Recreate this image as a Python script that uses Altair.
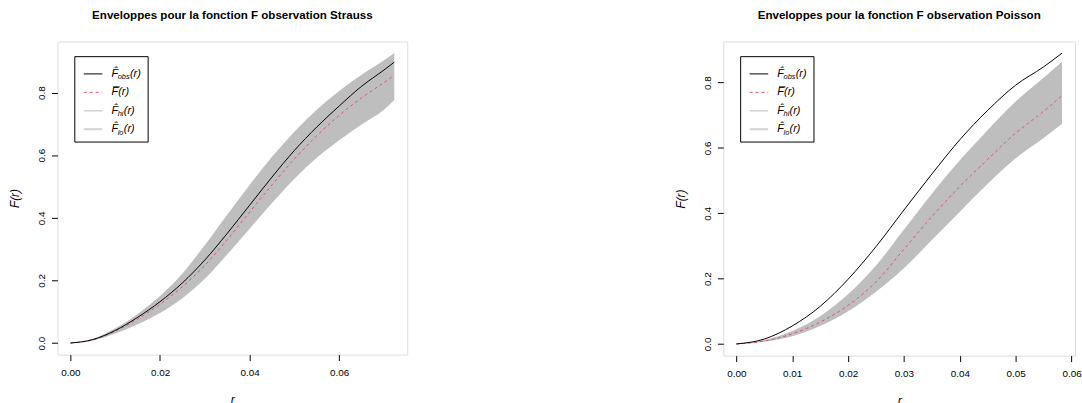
import altair as alt
import pandas as pd

# ---------------- data ----------------
# Left panel: Strauss observation
r_s = [0.0, 0.005, 0.01, 0.015, 0.02, 0.025, 0.03, 0.035, 0.04, 0.045, 0.05, 0.055, 0.06, 0.065, 0.07, 0.0723]
obs_s = [0.0, 0.011, 0.04, 0.082, 0.132, 0.192, 0.265, 0.35, 0.44, 0.53, 0.615, 0.69, 0.757, 0.82, 0.872, 0.897]
mean_s = [0.0, 0.01, 0.038, 0.077, 0.124, 0.18, 0.248, 0.33, 0.418, 0.505, 0.588, 0.662, 0.727, 0.783, 0.832, 0.855]
hi_s = [0.0, 0.013, 0.047, 0.093, 0.15, 0.222, 0.313, 0.41, 0.505, 0.595, 0.675, 0.745, 0.805, 0.857, 0.903, 0.926]
lo_s = [0.0, 0.008, 0.03, 0.06, 0.096, 0.143, 0.205, 0.283, 0.365, 0.447, 0.525, 0.592, 0.648, 0.698, 0.745, 0.776]

# Right panel: Poisson observation
r_p = [0.0, 0.005, 0.01, 0.015, 0.02, 0.025, 0.03, 0.035, 0.04, 0.045, 0.05, 0.055, 0.0583]
obs_p = [0.0, 0.015, 0.055, 0.115, 0.198, 0.298, 0.41, 0.52, 0.625, 0.715, 0.792, 0.848, 0.89]
mean_p = [0.0, 0.009, 0.031, 0.067, 0.118, 0.19, 0.29, 0.39, 0.482, 0.565, 0.645, 0.712, 0.76]
hi_p = [0.0, 0.012, 0.04, 0.085, 0.152, 0.24, 0.35, 0.46, 0.562, 0.655, 0.742, 0.815, 0.864]
lo_p = [0.0, 0.007, 0.024, 0.055, 0.1, 0.16, 0.232, 0.318, 0.405, 0.49, 0.568, 0.63, 0.674]

titles = ["Enveloppes pour la fonction F observation Strauss",
          "Enveloppes pour la fonction F observation Poisson"]
x_ticks_s = [0.0, 0.02, 0.04, 0.06]
x_ticks_p = [0.0, 0.01, 0.02, 0.03, 0.04, 0.05, 0.06]
y_ticks = [0.0, 0.2, 0.4, 0.6, 0.8]
legend_subs = ["obs", "", "hi", "lo"]

FONT = "Liberation Sans"
GREY = "#BEBEBE"
RED = "#DF536B"


def one():
    return alt.Data(values=[{"k": 0}])


def legend_layers():
    layers = []
    # box
    layers.append(alt.Chart(one()).mark_rect(fill="white", stroke="black", strokeWidth=1).encode(
        x=alt.value(17.5), x2=alt.value(91.5), y=alt.value(15.3), y2=alt.value(101.5)))
    styles = [dict(color="black", strokeWidth=1),
              dict(color=RED, strokeWidth=1, strokeDash=[3, 3]),
              dict(color="#D3D3D3", strokeWidth=1.5),
              dict(color="#D3D3D3", strokeWidth=2)]
    for i, sub in enumerate(legend_subs):
        yc = 32.7 + 18.6 * i
        layers.append(alt.Chart(one()).mark_rule(**styles[i]).encode(
            x=alt.value(26.6), x2=alt.value(45.3), y=alt.value(yc)))
        fx = 54.5
        main = "F\u0302" if sub else "F"
        layers.append(alt.Chart(one()).mark_text(
            align="left", baseline="middle", font=FONT, fontSize=11, fontStyle="italic", color="black").encode(
            x=alt.value(fx), y=alt.value(yc), text=alt.value(main)))
        w_sub = 0
        if sub:
            layers.append(alt.Chart(one()).mark_text(
                align="left", baseline="middle", font=FONT, fontSize=7.5, fontStyle="italic", color="black").encode(
                x=alt.value(fx + 6.3), y=alt.value(yc + 3.5), text=alt.value(sub)))
            w_sub = {"obs": 11.8, "hi": 5.6, "lo": 5.6}[sub]
        else:
            # overline of F-bar
            layers.append(alt.Chart(one()).mark_rule(color="black", strokeWidth=1).encode(
                x=alt.value(fx + 1.8), x2=alt.value(fx + 8.2), y=alt.value(yc - 5.5)))
        layers.append(alt.Chart(one()).mark_text(
            align="left", baseline="middle", font=FONT, fontSize=11, fontStyle="italic", color="black").encode(
            x=alt.value(fx + 6.8 + w_sub), y=alt.value(yc), text=alt.value("(r)")))
    return layers


def panel(r, obs, mean, hi, lo, title, xticks, w, h):
    rmax = max(r)
    fmax = max(max(obs), max(hi))
    xdom = [-0.04 * rmax, 1.04 * rmax]
    ydom = [-0.04 * fmax, 1.04 * fmax]
    df = pd.DataFrame({"r": r, "obs": obs, "mean": mean, "hi": hi, "lo": lo})
    xaxis = alt.Axis(values=xticks, format=".2f", title="r", titleFontStyle="italic",
                     titleFont=FONT, titleFontSize=12, titleFontWeight="normal", titlePadding=17,
                     labelFont=FONT, labelFontSize=10, labelPadding=7, tickSize=6,
                     tickColor="black", labelColor="black", titleColor="black",
                     domain=False, grid=False, labelFlush=False, labelOverlap=False)
    yaxis = alt.Axis(values=y_ticks, format=".1f", title="F(r)", titleFontStyle="italic",
                     titleFont=FONT, titleFontSize=12, titleFontWeight="normal", titlePadding=15,
                     labelFont=FONT, labelFontSize=10, labelPadding=5, tickSize=6, labelAngle=270,
                     labelAlign="center", labelBaseline="bottom",
                     tickColor="black", labelColor="black", titleColor="black",
                     domain=False, grid=False, labelFlush=False, labelOverlap=False)
    xs = alt.Scale(domain=xdom, nice=False, zero=False)
    ys = alt.Scale(domain=ydom, nice=False, zero=False)
    base = alt.Chart(df)
    area = base.mark_area(color=GREY, opacity=1, interpolate="monotone").encode(
        x=alt.X("r:Q", scale=xs, axis=xaxis),
        y=alt.Y("lo:Q", scale=ys, axis=yaxis),
        y2="hi:Q")
    mline = base.mark_line(color=RED, strokeWidth=1, strokeDash=[3, 3], interpolate="monotone").encode(
        x=alt.X("r:Q", scale=xs, axis=xaxis),
        y=alt.Y("mean:Q", scale=ys, axis=yaxis))
    oline = base.mark_line(color="black", strokeWidth=1, interpolate="monotone").encode(
        x=alt.X("r:Q", scale=xs, axis=xaxis),
        y=alt.Y("obs:Q", scale=ys, axis=yaxis))
    return alt.layer(area, mline, oline, *legend_layers()).properties(
        width=w, height=h,
        title=alt.TitleParams(title, font=FONT, fontSize=11.7, fontWeight="bold", anchor="middle",
                              baseline="alphabetic", offset=11, color="black"))


left = panel(r_s, obs_s, mean_s, hi_s, lo_s, titles[0], x_ticks_s, 353, 316)
right = panel(r_p, obs_p, mean_p, hi_p, lo_p, titles[1], x_ticks_p, 355, 317)

chart = alt.hconcat(left, right, spacing=268).properties(
    padding={"left": 8, "top": 7, "right": 0, "bottom": 0},
).configure_view(stroke="black", strokeWidth=1).configure(background="white")

chart.save("out.html", embed_options={"renderer": "svg", "actions": False})
